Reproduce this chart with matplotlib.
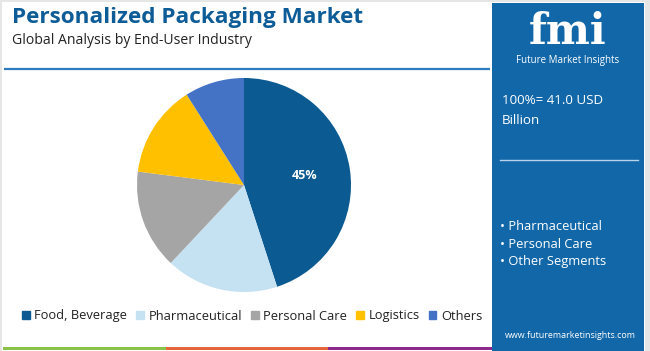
import matplotlib
matplotlib.use("Agg")
import matplotlib.pyplot as plt
from matplotlib.patches import Rectangle

categories = ["Food, Beverage", "Pharmaceutical", "Personal Care", "Logistics", "Others"]
shares = [45, 17, 15, 14, 9]
colors = ["#0B5A91", "#C5E2F3", "#A5A5A5", "#FFC000", "#4472C4"]
shown_labels = ["45%", "", "", "", ""]
bullets = ["Pharmaceutical", "Personal Care", "Other Segments"]

W, H = 650, 351
fig = plt.figure(figsize=(W / 100, H / 100), dpi=100)
fig.patch.set_facecolor("white")
font = "Open Sans"

def fx(x):
    return x / W

def fy(y):
    return 1 - y / H

# background axes for decorations
bg = fig.add_axes([0, 0, 1, 1])
bg.set_xlim(0, W)
bg.set_ylim(H, 0)
bg.axis("off")

# light borders
bg.add_patch(Rectangle((0, 0), 2, H, color="#E6E6E6", lw=0))
bg.add_patch(Rectangle((0, 0), W, 2, color="#E6E6E6", lw=0))
bg.add_patch(Rectangle((645, 0), 5, H, color="#E6E6E6", lw=0))

# right panel
bg.add_patch(Rectangle((492, 3), 152, H - 3, color="#1167A7", lw=0))

# header line
bg.plot([4, 490], [69, 69], color="#2F7BBF", lw=1.6, solid_capstyle="butt")

# bottom colored lines
bg.add_patch(Rectangle((3, 346.5), 163, 3, color="#8BC34A", lw=0))
bg.add_patch(Rectangle((166, 346.5), 162, 3, color="#E8643C", lw=0))
bg.add_patch(Rectangle((328, 346.5), 164, 3, color="#8E2A8E", lw=0))

# titles
fig.text(fx(12), fy(18), "Personalized Packaging Market", fontsize=16.2,
         fontweight="bold", color="#0D5C97", family=font, va="center", ha="left")
fig.text(fx(12), fy(40), "Global Analysis by End-User Industry", fontsize=10.1,
         color="#222222", family=font, va="center", ha="left")

# logo
fig.text(fx(568), fy(32), "fmi", fontsize=30, fontweight="bold", color="white",
         family="DejaVu Serif", va="center", ha="center")
for yy in range(19, 49, 4):
    bg.plot([512, 625], [yy, yy], color="#1167A7", lw=0.8)
fig.text(fx(568), fy(61), "Future Market Insights", fontsize=7, color="white",
         family=font, va="center", ha="center")

# right panel text
fig.text(fx(502), fy(101), "100%= 41.0 USD", fontsize=9.6, color="white",
         family=font, va="center", ha="left")
fig.text(fx(502), fy(121), "Billion", fontsize=9.6, color="white",
         family=font, va="center", ha="left")
bg.plot([500, 638], [160, 160], color="#B9D3EA", lw=1.0)
for i, b in enumerate(bullets):
    fig.text(fx(500), fy(227 + i * 17.3), "\u2022 " + b, fontsize=9.3, color="white",
             family=font, va="center", ha="left")
fig.text(fx(570), fy(335), "www.futuremarketinsights.com", fontsize=6.4, color="white",
         family=font, va="center", ha="center")

# pie
cx, cy, r = 244, 185, 107
ax = fig.add_axes([fx(cx - r), fy(cy + r), 2 * r / W, 2 * r / H])
wedges, texts, autotexts = ax.pie(
    shares, colors=colors, startangle=90, counterclock=False,
    autopct=lambda p: "", pctdistance=0.57,
    wedgeprops=dict(linewidth=0))
for t, lab in zip(autotexts, shown_labels):
    t.set_text(lab)
    t.set_color("white")
    t.set_fontweight("bold")
    t.set_fontsize(9)
    t.set_family(font)
ax.set_xlim(-1, 1)
ax.set_ylim(-1, 1)
ax.set_aspect("equal")
ax.axis("off")

# legend
handles = [Rectangle((0, 0), 1, 1, color=c) for c in colors]
leg = fig.legend(handles, categories, loc="center", bbox_to_anchor=(fx(252), fy(316)),
                 ncol=5, frameon=False, handlelength=0.6,
                 handleheight=0.6, handletextpad=0.35, columnspacing=0.7,
                 borderpad=0, borderaxespad=0,
                 prop={"family": font, "size": 9.3})
for t in leg.get_texts():
    t.set_color("#222222")

fig.savefig("out.png", dpi=100, facecolor="white")
